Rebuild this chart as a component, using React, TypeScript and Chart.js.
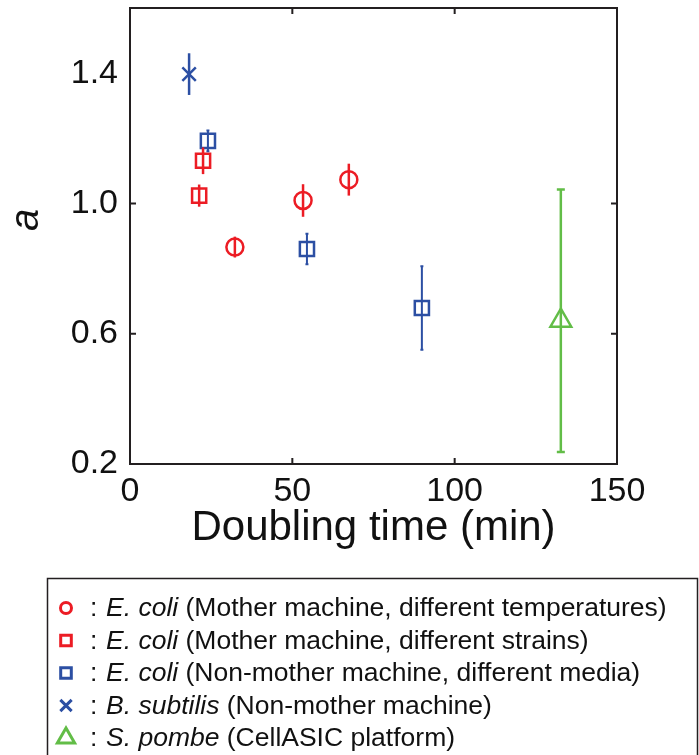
import React, { useEffect, useRef } from 'react';
import { Chart, registerables } from 'chart.js';

Chart.register(...registerables);

// ---------- data ----------
const xTickLabels = [0, 50, 100, 150];
const yTickLabels = [0.2, 0.6, 1.0, 1.4];
const xTitle = 'Doubling time (min)';
const yTitle = 'a';

const ecoliTempX = [32.3, 53.3, 67.4];
const ecoliTempY = [0.866, 1.009, 1.073];
const ecoliTempErr = [0.032, 0.05, 0.049];

const ecoliStrainX = [22.5, 21.3];
const ecoliStrainY = [1.131, 1.024];
const ecoliStrainErr = [0.041, 0.034];

const ecoliMediaX = [24.0, 54.5, 89.9];
const ecoliMediaY = [1.192, 0.86, 0.679];
const ecoliMediaErr = [0.032, 0.047, 0.128];

const bsubX = [18.2];
const bsubY = [1.397];
const bsubErr = [0.064];

const spombeX = [132.7];
const spombeY = [0.64];
const spombeErr = [0.403];

const legendSpecies = ['E. coli', 'E. coli', 'E. coli', 'B. subtilis', 'S. pombe'];
const legendDetails = [
  '(Mother machine, different temperatures)',
  '(Mother machine, different strains)',
  '(Non-mother machine, different media)',
  '(Non-mother machine)',
  '(CellASIC platform)',
];

// ---------- styles ----------
const RED = '#ec1c24';
const BLUE = '#2c4fa3';
const GREEN = '#62bd47';
const INK = '#111111';
const FRAME = '#231f20';
const FAMILY = '"Liberation Sans", Arial, Helvetica, sans-serif';

const toPoints = (xs: number[], ys: number[]) => xs.map((x, i) => ({ x, y: ys[i] }));

type Series = {
  label: string;
  xs: number[];
  ys: number[];
  errs: number[];
  color: string;
  style: string;
  radius: number;
  width: number;
  cap: number;
  errWidth: number;
  legendRadius: number;
};

const series: Series[] = [
  { label: 'E. coli temperatures', xs: ecoliTempX, ys: ecoliTempY, errs: ecoliTempErr, color: RED, style: 'circle', radius: 8.5, width: 2.5, cap: 0, errWidth: 2.5, legendRadius: 5.5 },
  { label: 'E. coli strains', xs: ecoliStrainX, ys: ecoliStrainY, errs: ecoliStrainErr, color: RED, style: 'rect', radius: 10, width: 2.5, cap: 0, errWidth: 2.5, legendRadius: 7.5 },
  { label: 'E. coli media', xs: ecoliMediaX, ys: ecoliMediaY, errs: ecoliMediaErr, color: BLUE, style: 'rect', radius: 10, width: 2.5, cap: 3, errWidth: 2, legendRadius: 7.5 },
  { label: 'B. subtilis', xs: bsubX, ys: bsubY, errs: bsubErr, color: BLUE, style: 'crossRot', radius: 9.5, width: 2.5, cap: 0, errWidth: 2.5, legendRadius: 8 },
  { label: 'S. pombe', xs: spombeX, ys: spombeY, errs: spombeErr, color: GREEN, style: 'triangle', radius: 12, width: 2.5, cap: 8, errWidth: 2.5, legendRadius: 10 },
];

// ---------- plugins ----------
const errorBarPlugin = {
  id: 'errorBars',
  afterDatasetsDraw(chart: any) {
    const { ctx, scales } = chart;
    const xs = scales.x;
    const ys = scales.y;
    ctx.save();
    series.forEach((s) => {
      ctx.strokeStyle = s.color;
      ctx.lineWidth = s.errWidth;
      s.xs.forEach((xv, i) => {
        const px = xs.getPixelForValue(xv);
        const top = ys.getPixelForValue(s.ys[i] + s.errs[i]);
        const bot = ys.getPixelForValue(s.ys[i] - s.errs[i]);
        ctx.beginPath();
        ctx.moveTo(px, top);
        ctx.lineTo(px, bot);
        if (s.cap > 0) {
          ctx.moveTo(px - s.cap / 2, top);
          ctx.lineTo(px + s.cap / 2, top);
          ctx.moveTo(px - s.cap / 2, bot);
          ctx.lineTo(px + s.cap / 2, bot);
        }
        ctx.stroke();
      });
    });
    ctx.restore();
  },
};

const framePlugin = {
  id: 'frame',
  afterDraw(chart: any) {
    const { ctx, chartArea, scales } = chart;
    const { left, right, top, bottom } = chartArea;
    const tl = 6;
    ctx.save();
    ctx.strokeStyle = FRAME;
    ctx.lineWidth = 2;
    ctx.strokeRect(left, top, right - left, bottom - top);
    ctx.beginPath();
    const xt = scales.x.ticks;
    xt.forEach((t: any, i: number) => {
      if (i === 0 || i === xt.length - 1) return;
      const px = scales.x.getPixelForValue(t.value);
      ctx.moveTo(px, bottom);
      ctx.lineTo(px, bottom - tl);
      ctx.moveTo(px, top);
      ctx.lineTo(px, top + tl);
    });
    const yt = scales.y.ticks;
    yt.forEach((t: any, i: number) => {
      if (i === 0 || i === yt.length - 1) return;
      const py = scales.y.getPixelForValue(t.value);
      ctx.moveTo(left, py);
      ctx.lineTo(left + tl, py);
      ctx.moveTo(right, py);
      ctx.lineTo(right - tl, py);
    });
    ctx.stroke();

    // y axis title
    ctx.fillStyle = INK;
    ctx.font = `italic 40px ${FAMILY}`;
    ctx.textAlign = 'center';
    ctx.textBaseline = 'alphabetic';
    ctx.translate(38, 220);
    ctx.rotate(-Math.PI / 2);
    ctx.fillText(yTitle, 0, 0);
    ctx.restore();
  },
};

function drawMarker(ctx: CanvasRenderingContext2D, style: string, x: number, y: number, r: number) {
  ctx.beginPath();
  if (style === 'circle') {
    ctx.arc(x, y, r, 0, Math.PI * 2);
  } else if (style === 'rect') {
    const h = r * Math.SQRT1_2;
    ctx.rect(x - h, y - h, 2 * h, 2 * h);
  } else if (style === 'crossRot') {
    const h = r * Math.SQRT1_2;
    ctx.moveTo(x - h, y - h);
    ctx.lineTo(x + h, y + h);
    ctx.moveTo(x - h, y + h);
    ctx.lineTo(x + h, y - h);
  } else if (style === 'triangle') {
    const a = (Math.PI * 2) / 3;
    ctx.moveTo(x, y - r);
    ctx.lineTo(x + Math.sin(a) * r, y - Math.cos(a) * r);
    ctx.lineTo(x + Math.sin(2 * a) * r, y - Math.cos(2 * a) * r);
    ctx.closePath();
  }
  ctx.stroke();
}

const legendPlugin = {
  id: 'boxLegend',
  afterDraw(chart: any) {
    const ctx: CanvasRenderingContext2D = chart.ctx;
    const y0 = 608;
    const dy = 32.5;
    ctx.save();
    ctx.strokeStyle = FRAME;
    ctx.lineWidth = 1.5;
    ctx.strokeRect(47.5, 578.5, 650, 220);
    series.forEach((s, i) => {
      const y = y0 + i * dy;
      ctx.strokeStyle = s.color;
      ctx.lineWidth = 3;
      drawMarker(ctx, s.style, 66, y, s.legendRadius);
      ctx.fillStyle = INK;
      ctx.textBaseline = 'middle';
      ctx.textAlign = 'left';
      ctx.font = `26.5px ${FAMILY}`;
      ctx.fillText(':', 90, y + 1);
      ctx.font = `italic 26.5px ${FAMILY}`;
      ctx.fillText(legendSpecies[i], 106, y + 1);
      const w = ctx.measureText(legendSpecies[i]).width;
      ctx.font = `26.5px ${FAMILY}`;
      ctx.fillText(' ' + legendDetails[i], 106 + w, y + 1);
    });
    ctx.restore();
  },
};

export default function App() {
  const canvasRef = useRef<HTMLCanvasElement | null>(null);

  useEffect(() => {
    const canvas = canvasRef.current;
    if (!canvas) return;
    const chart = new Chart(canvas, {
      type: 'scatter',
      data: {
        datasets: series.map((s) => ({
          label: s.label,
          data: toPoints(s.xs, s.ys),
          showLine: false,
          pointStyle: s.style as any,
          pointRadius: s.radius,
          pointHoverRadius: s.radius,
          pointBorderWidth: s.width,
          pointHoverBorderWidth: s.width,
          borderColor: s.color,
          backgroundColor: 'rgba(0,0,0,0)',
          pointBackgroundColor: 'rgba(0,0,0,0)',
        })),
      },
      options: {
        responsive: false,
        animation: false,
        events: [],
        layout: { autoPadding: false, padding: { left: 0, top: 8, right: 82, bottom: 201 } },
        plugins: {
          legend: { display: false },
          tooltip: { enabled: false },
        },
        scales: {
          x: {
            type: 'linear',
            position: 'bottom',
            min: 0,
            max: 150,
            grid: { display: false, drawTicks: false },
            border: { display: false },
            ticks: {
              stepSize: 50,
              autoSkip: false,
              maxRotation: 0,
              padding: 7,
              color: INK,
              font: { size: 34, family: FAMILY },
              callback: (v: any) => (xTickLabels.includes(Number(v)) ? String(v) : null),
            },
            title: {
              display: true,
              text: xTitle,
              color: INK,
              font: { size: 42, family: FAMILY, lineHeight: 1.2 },
              padding: { top: 0, bottom: 0 },
            },
            afterFit: (s: any) => {
              s.height = 90;
            },
          },
          y: {
            type: 'linear',
            min: 0.2,
            max: 1.6,
            grid: { display: false, drawTicks: false },
            border: { display: false },
            ticks: {
              stepSize: 0.2,
              autoSkip: false,
              padding: 12,
              color: INK,
              font: { size: 34, family: FAMILY },
              callback: (v: any) => {
                const r = Math.round(Number(v) * 10) / 10;
                return yTickLabels.some((t) => Math.abs(t - r) < 1e-6) ? r.toFixed(1) : null;
              },
            },
            afterFit: (s: any) => {
              s.width = 130;
              s.paddingTop = 0;
              s.paddingBottom = 0;
            },
          },
        },
      },
      plugins: [errorBarPlugin, framePlugin, legendPlugin],
    });
    return () => chart.destroy();
  }, []);

  return (
    <div style={{ position: 'absolute', left: 0, top: 0, width: 699, height: 755, background: '#fff' }}>
      <canvas ref={canvasRef} width={699} height={755} style={{ display: 'block' }} />
    </div>
  );
}
